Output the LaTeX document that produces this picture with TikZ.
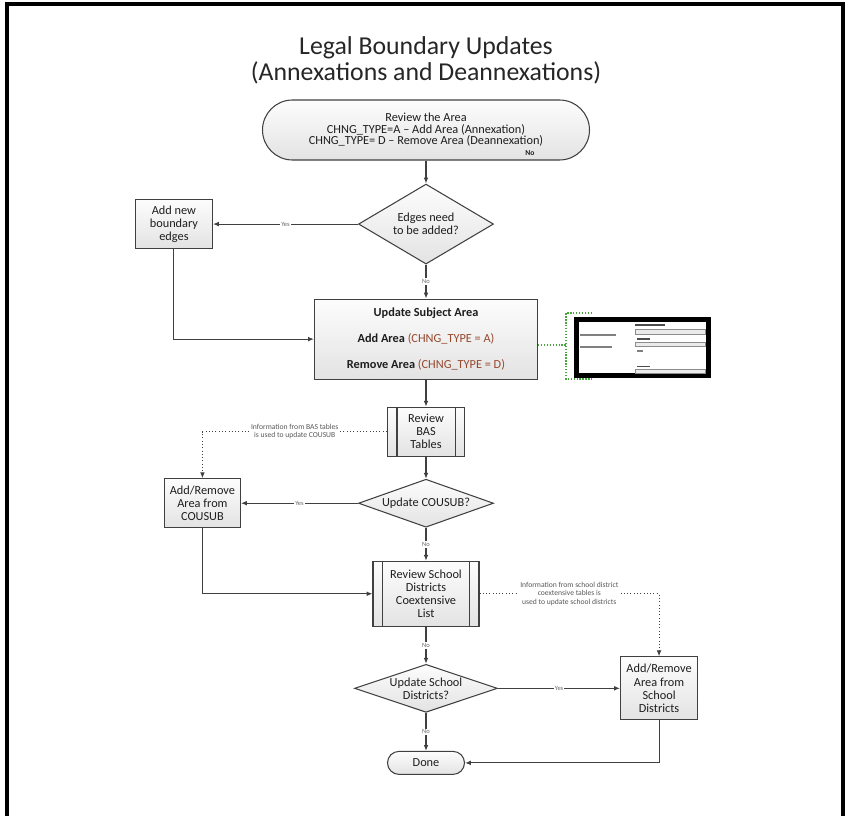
\documentclass[tikz,border=0pt]{standalone}
\usepackage{fontspec}
\setmainfont{Carlito}
\usetikzlibrary{positioning, arrows.meta, shapes.geometric, calc}

\definecolor{linegray}{RGB}{64,64,64}
\definecolor{textgray}{RGB}{30,30,30}
\definecolor{chngbrown}{RGB}{150,72,45}
\definecolor{calloutgreen}{RGB}{70,165,60}

\begin{document}
\begin{tikzpicture}[
    every node/.style={text=textgray, font=\fontsize{10.5}{11.2}\selectfont},
    box/.style={draw=linegray, line width=0.9pt, top color=black!1, bottom color=black!11, align=center, inner sep=2pt},
    decision/.style={diamond, draw=linegray, line width=0.9pt, top color=black!1, bottom color=black!11, inner sep=0pt},
    dtext/.style={align=center, inner sep=0pt},
    lbl/.style={font=\fontsize{5.5}{6}\selectfont, text=black!60, fill=white, inner sep=1pt},
    arrow/.style={-{Latex[length=5pt, width=4pt]}, line width=0.9pt, draw=linegray},
    note/.style={arrow, line width=0.8pt, dotted},
    notetext/.style={font=\fontsize{6.5}{7.3}\selectfont, text=black!65, fill=white, align=center, inner sep=1pt},
    callout/.style={line width=1.1pt, draw=calloutgreen, dash pattern=on 1.1pt off 1.4pt},
    field/.style={draw=black!45, fill=black!8, line width=0.3pt},
    fieldtext/.style={draw=black!50, line width=1.3pt}
]
\useasboundingbox (0,0) rectangle (25.38,-24.48);
% page frame
\draw[line width=2.6pt, black] (0.21,-24.48) -- (0.21,-0.12) -- (25.29,-0.12) -- (25.29,-24.48);

\node[font=\fontsize{22}{22.2}\selectfont, text=black!85, align=center] (title) at (12.78,-1.8) {Legal Boundary Updates\\(Annexations and Deannexations)};

\node[box, rounded corners=0.9cm, minimum width=9.81cm, minimum height=1.8cm, font=\fontsize{10.5}{9.8}\selectfont] (start) at (12.78,-3.9) {Review the Area\\CHNG\_TYPE=A -- Add Area (Annexation)\\CHNG\_TYPE= D -- Remove Area (Deannexation)};
\node[font=\fontsize{6.5}{7}\selectfont\bfseries] (startno) at ([xshift=3.12cm, yshift=-0.69cm]start.center) {No};

\node[decision, minimum width=4.05cm, minimum height=2.4cm, below=0.69cm of start, label={[dtext]center:Edges need\\to be added?}] (edges) {};
\node[box, minimum width=2.31cm, minimum height=1.47cm, left=4.35cm of edges] (addedges) {Add new\\boundary\\edges};

\node[box, minimum width=6.69cm, minimum height=2.4cm, below=1.02cm of edges] (update) {\textbf{Update Subject Area}\\[11.2pt]
    \textbf{Add Area} {\color{chngbrown}(CHNG\_TYPE = A)}\\[11.2pt]
    \textbf{Remove Area} {\color{chngbrown}(CHNG\_TYPE = D)}};

% screenshot of the edit panel
\node[draw=black, line width=4.3pt, fill=white, minimum width=3.96cm, minimum height=1.68cm, inner sep=0pt, right=1.08cm of update, yshift=-0.255cm] (shot) {};
\begin{scope}[shift={(shot.north west)}]
    \draw[fieldtext] (0.18,-0.54) -- (1.26,-0.54);
    \draw[fieldtext] (0.18,-0.90) -- (1.14,-0.90);
    \draw[fieldtext, draw=black!70] (1.83,-0.24) -- (2.73,-0.24);
    \draw[field] (1.83,-0.36) rectangle (3.93,-0.51);
    \draw[fieldtext, draw=black!70] (1.89,-0.66) -- (2.28,-0.66);
    \draw[field] (1.83,-0.75) rectangle (3.93,-0.86);
    \draw[fieldtext] (1.89,-1.02) -- (2.07,-1.02);
    \draw[fieldtext, draw=black!70] (1.89,-1.48) -- (2.28,-1.48);
    \draw[field] (1.83,-1.57) rectangle (3.93,-1.69);
    \draw[callout] (0.54,0.12) -- (-0.24,0.12) -- (-0.24,-1.86) -- (0.54,-1.86);
    \coordinate (brk) at (-0.24,-0.84);
\end{scope}
\draw[callout] (update.east |- brk) -- (brk);

\node[box, minimum width=2.31cm, minimum height=1.47cm, below=0.81cm of update] (bas) {Review\\BAS\\Tables};
\node[decision, minimum width=4.05cm, minimum height=1.44cm, below=0.66cm of bas, label={[dtext]center:Update COUSUB?}] (cousub) {};
\node[box, minimum width=2.28cm, minimum height=1.47cm, left=3.51cm of cousub] (addcousub) {Add/Remove\\Area from\\COUSUB};

\node[box, minimum width=3.18cm, minimum height=1.95cm, below=0.99cm of cousub] (school) {Review School\\Districts\\Coextensive\\List};
\node[decision, minimum width=4.29cm, minimum height=1.44cm, below=1.11cm of school, label={[dtext]center:Update School\\Districts?}] (sd) {};
\node[box, minimum width=2.31cm, minimum height=1.89cm, right=3.66cm of sd] (addsd) {Add/Remove\\Area from\\School\\Districts};
\node[box, rounded corners=0.345cm, minimum width=2.31cm, minimum height=0.69cm, below=1.14cm of sd] (done) {Done};

% side bars of the process boxes
\draw[linegray, line width=0.9pt] ([xshift=0.3cm]bas.north west) -- ([xshift=0.3cm]bas.south west);
\draw[linegray, line width=0.9pt] ([xshift=-0.3cm]bas.north east) -- ([xshift=-0.3cm]bas.south east);
\draw[linegray, line width=0.9pt] ([xshift=0.3cm]school.north west) -- ([xshift=0.3cm]school.south west);
\draw[linegray, line width=0.9pt] ([xshift=-0.3cm]school.north east) -- ([xshift=-0.3cm]school.south east);

\draw[arrow] (start) -- (edges);
\draw[arrow] (edges) -- node[lbl] {Yes} (addedges);
\draw[arrow] (edges) -- node[lbl] {No} (update);
\draw[arrow] (addedges) |- (update);
\draw[arrow] (update) -- (bas);
\draw[arrow] (bas) -- (cousub);
\draw[arrow] (cousub) -- node[lbl] {Yes} (addcousub);
\draw[arrow] (cousub) -- node[lbl] {No} (school);
\draw[arrow] (addcousub) |- (school);
\draw[arrow] (school) -- node[lbl] {No} (sd);
\draw[arrow] (sd) -- node[lbl] {Yes} (addsd);
\draw[arrow] (sd) -- node[lbl] {No} (done);
\draw[arrow] (addsd) |- (done);

\draw[note] (bas) -- node[notetext] {Information from BAS tables\\is used to update COUSUB} (bas.west -| addcousub) -- (addcousub);
\draw[note] (school) -- node[notetext] {Information from school district\\coextensive tables is\\used to update school districts} (school.east -| addsd) -- (addsd);

\end{tikzpicture}
\end{document}
